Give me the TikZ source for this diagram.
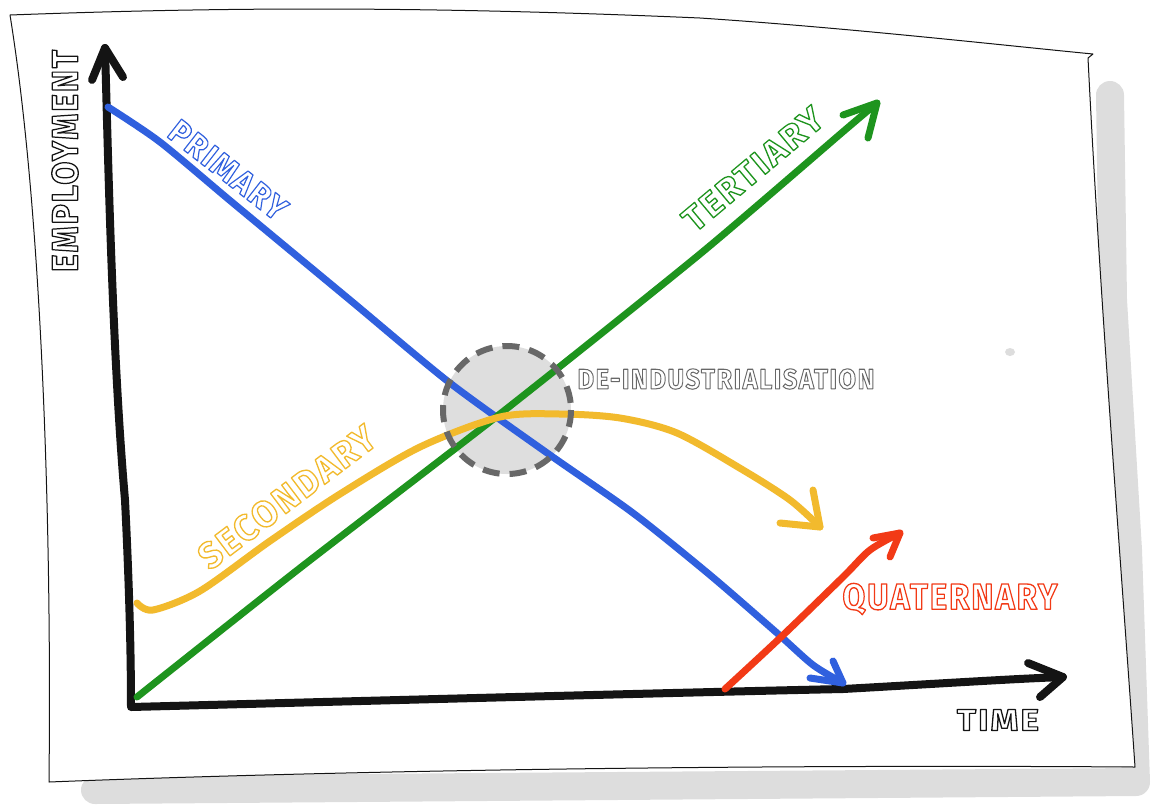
\documentclass[tikz,border=0pt]{standalone}
\usepackage{fontspec}
\setmainfont{Fira Sans Bold}
\usepackage{graphicx}
\definecolor{pblue}{RGB}{48,96,222}
\definecolor{tgreen}{RGB}{30,148,30}
\definecolor{syellow}{RGB}{242,186,45}
\definecolor{qred}{RGB}{242,58,22}
\definecolor{shadowgray}{RGB}{221,221,221}
\definecolor{ring}{RGB}{104,104,104}
\definecolor{ringfill}{RGB}{222,222,222}
\definecolor{ink}{RGB}{20,20,20}
% hollow lettering: outlined (stroked, unfilled) letters fitted to a box
\newcommand\hollowtext[4]{\resizebox{#2pt}{#3pt}{\fontsize{30pt}{30pt}\selectfont\addfontfeature{LetterSpace=6}\textcolor{#1}{\special{pdf:literal direct 1 Tr 1.1 w}#4\special{pdf:literal direct 0 Tr}}}}
\begin{document}
\begin{tikzpicture}[x=1pt,y=-1pt,line cap=round,line join=round,
  curve/.style={line width=7pt},
  axisline/.style={line width=8pt,ink},
  paper/.style={draw=ink,line width=1pt,fill=white},
  lbl/.style={inner sep=0pt,anchor=center}]
\useasboundingbox (0,0) rectangle (1159,807);

% shadow under the sheet
\draw[shadowgray,line width=28pt] (1110,95) -- (1113,300) -- (1128,550) -- (1136,782) -- (95,790);
% the sheet
\draw[paper] (10,15) .. controls (200,8) and (400,5) .. (700,18)
  .. controls (850,28) and (1000,45) .. (1093,54)
  -- (1088,58) .. controls (1100,300) and (1120,550) .. (1135,767)
  .. controls (700,764) and (300,772) .. (49,782)
  .. controls (52,500) and (40,200) .. (10,15) -- cycle;
\fill[shadowgray] (1010,352) ellipse (5 and 4);

% coordinates of the axes
\coordinate (ytip) at (105,48);
\coordinate (origin) at (131,707);
\coordinate (xtip) at (1063,677);

% highlight ring
\node[circle,minimum size=128pt,fill=ringfill,inner sep=0pt] (ring) at (507,410) {};

% axes
\draw[axisline] (ytip) .. controls (108,150) and (112,350) .. (125,500)
  .. controls (129,580) and (131,650) .. (origin)
  .. controls (400,700) and (700,692) .. (843,689)
  .. controls (950,683) and (1010,679) .. (xtip);
\draw[axisline] (92,80) -- (ytip) -- (123,77);
\draw[axisline] (1028,663) -- (xtip) -- (1040,697);

% primary
\coordinate (p0) at (108,107);
\coordinate (p1) at (843,683);
\draw[curve,pblue] plot[smooth,tension=0.45] coordinates {(p0) (160,142) (233,203) (350,300) (450,383) (550,455) (633,513) (710,575) (777,633) (813,665) (p1)};
\draw[curve,pblue] (833,661) -- (p1) -- (810,678);

% tertiary
\coordinate (t0) at (137,697);
\coordinate (t1) at (877,103);
\draw[curve,tgreen] plot[smooth,tension=0.4] coordinates {(t0) (300,568) (505,410) (700,254) (845,130) (t1)};
\draw[curve,tgreen] (843,115) -- (t1) -- (868,138);

% secondary
\coordinate (s0) at (137,603);
\coordinate (s1) at (820,527);
\draw[curve,syellow] plot[smooth,tension=0.5] coordinates {(s0) (153,610) (200,591) (270,541) (340,494) (420,447) (500,417) (560,414) (620,418) (677,433) (743,470) (790,500) (s1)};
\draw[curve,syellow] (813,490) -- (s1) -- (780,523);

% quaternary
\coordinate (q0) at (725,689);
\coordinate (q1) at (900,533);
\draw[curve,qred] plot[smooth,tension=0.5] coordinates {(q0) (780,638) (843,577) (870,550) (q1)};
\draw[curve,qred] (873,538) -- (q1) -- (890,557);

% dashed rim of the ring
\draw[ring,line width=6pt,line cap=butt,dash pattern=on 17pt off 10pt] (ring.center) circle (64);

% labels
\node[lbl,rotate=90] (ylabel) at (65,161) {\hollowtext{ink}{222}{26}{EMPLOYMENT}};
\node[lbl] (xlabel) at (998,720) {\hollowtext{ink}{82}{21}{TIME}};
\node[lbl,rotate=-38] (primary) at (228,170) {\hollowtext{pblue}{140}{23}{PRIMARY}};
\node[lbl,rotate=37] (secondary) at (287,497) {\hollowtext{syellow}{212}{26}{SECONDARY}};
\node[lbl,rotate=40] (tertiary) at (753,169) {\hollowtext{tgreen}{172}{24}{TERTIARY}};
\node[lbl] (quaternary) at (950,599) {\hollowtext{qred}{215}{26}{QUATERNARY}};
\node[lbl] (deind) at (726,379) {\hollowtext{ring}{297}{20}{DE-INDUSTRIALISATION}};
\end{tikzpicture}
\end{document}
